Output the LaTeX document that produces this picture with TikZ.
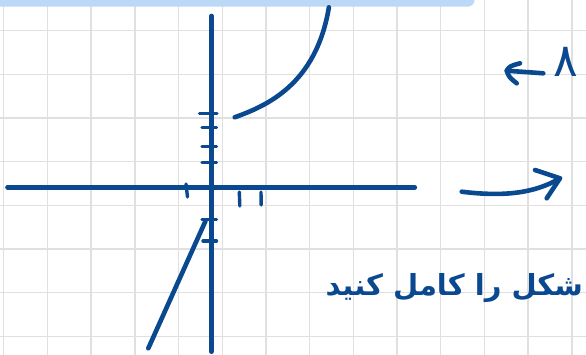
\documentclass[tikz,border=0pt]{standalone}
\usepackage{fontspec}
\newfontfamily\persianfont[Script=Arabic]{DejaVu Sans}
\TeXXeTstate=1
\usetikzlibrary{positioning}
\definecolor{inkblue}{RGB}{10,73,143}
\definecolor{gridgray}{RGB}{224,224,224}
\definecolor{bandblue}{RGB}{188,216,247}

\begin{document}
\begin{tikzpicture}[x=1pt,y=-1pt,line cap=round,line join=round,
 ink/.style={draw=inkblue,line width=4.6pt},
 tick/.style={draw=inkblue,line width=3.4pt},
 gridline/.style={draw=gridgray,line width=1.4pt},
 note/.style={text=inkblue,font=\persianfont\bfseries\fontsize{29}{36}\selectfont,inner sep=0pt}]
\useasboundingbox (0,0) rectangle (586,355);
\fill[white] (0,0) rectangle (586,355);
% squared paper
\foreach \gx in {0,...,13} \draw[gridline] (3.7+43.7*\gx,0) -- (3.7+43.7*\gx,355);
\foreach \gy in {0,...,7} \draw[gridline] (0,30.7+43.65*\gy) -- (586,30.7+43.65*\gy);
\fill[bandblue,rounded corners=7pt] (-20,-20) rectangle (474.6,6.7);
% axes
\coordinate (xl) at (7.5,187.3);
\coordinate (xr) at (414.8,187.3);
\coordinate (yt) at (211.5,16);
\coordinate (yb) at (211.5,351.7);
\draw[ink] (xl) -- (xr);
\draw[ink] (yt) -- (yb);
% tick marks
\draw[tick] (199.5,113.3) -- (217,113.3);
\draw[tick] (202,127.7) -- (216.5,127.7);
\draw[tick] (202,146.7) -- (216.5,146.7);
\draw[tick] (202,162.3) -- (216.5,162.3);
\draw[tick] (202,219.3) -- (216.5,219.3);
\draw[tick] (203,241) -- (216.5,241);
\draw[tick] (239.3,192) -- (239.8,206);
\draw[tick] (261,192) -- (261.2,205);
\draw[tick] (186,184) -- (187.5,197);
% the two branches
\coordinate (cs) at (234.7,117.3);
\coordinate (ce) at (328.9,7.3);
\draw[ink] (cs) .. controls (266,106) and (316,85) .. (ce);
\coordinate (lb) at (148.3,348.3);
\coordinate (lt) at (205.5,221);
\draw[ink] (lb) -- (lt);
% arrows on the right
\coordinate (ra) at (461.7,191.7);
\coordinate (rb) at (560,178.3);
\draw[ink] (ra) .. controls (505,197) and (535,193) .. (rb);
\draw[ink] (535,170) -- (rb) -- (546.7,198.3);
\coordinate (la) at (543.3,73.3);
\coordinate (lb2) at (506.7,70.7);
\draw[ink] (la) -- (lb2);
\draw[ink] (520,63.3) .. controls (510,66) .. (lb2) .. controls (509,77) .. (516.7,83.3);
\node[note,font=\persianfont\fontsize{46}{50}\selectfont] (eight) at (566,62) {۸};
% handwritten note
\node[note,anchor=east] (remark) at (583,288) {\beginR شکل را کامل کنید\endR};
\end{tikzpicture}
\end{document}
